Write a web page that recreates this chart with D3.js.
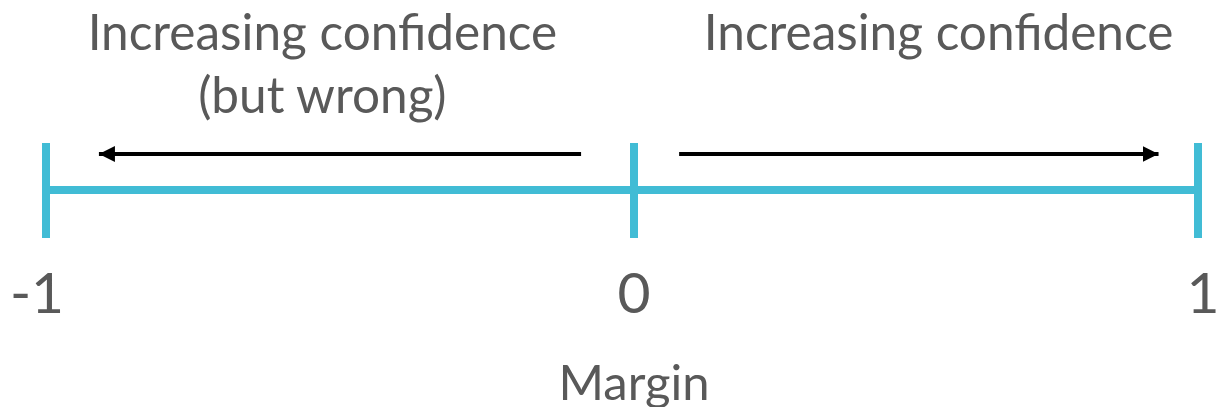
<!DOCTYPE html>
<html>
<head>
<meta charset="utf-8">
<script src="https://cdn.jsdelivr.net/npm/d3@7"></script>
<style>
  body { margin: 0; background: #fff; }
  svg { display: block; }
</style>
</head>
<body>
<script>
// margin axis: tick values and their labels
var tickValues = [-1, 0, 1];
var tickLabels = ["-1", "0", "1"];
// arrows, in margin units [from, to]
var arrows = [[-0.09, -0.91], [0.08, 0.93]];
// captions above each half
var captions = [
  {at: -0.53, lines: ["Increasing confidence", "(but wrong)"]},
  {at: 0.54, lines: ["Increasing confidence"]}
];
var axisTitle = "Margin";

var width = 1220, height = 407;
var teal = "#41bcd5", grey = "#595959";
var font = "Lato, sans-serif";

var x = d3.scaleLinear()
    .domain([-1, 0, 1])
    .range([46, 634, 1198]);

var svg = d3.select("body").append("svg")
    .attr("width", width)
    .attr("height", height)
    .attr("font-family", font);

svg.append("defs").append("marker")
    .attr("id", "head")
    .attr("viewBox", "0 0 16 16")
    .attr("refX", 16).attr("refY", 8)
    .attr("markerWidth", 16).attr("markerHeight", 16)
    .attr("markerUnits", "userSpaceOnUse")
    .attr("orient", "auto")
  .append("path")
    .attr("d", "M0,0 L16,8 L0,16 Z")
    .attr("fill", "#000");

// main line
var axisY = 190;
svg.append("line")
    .attr("x1", x(-1)).attr("x2", x(1))
    .attr("y1", axisY).attr("y2", axisY)
    .attr("stroke", teal)
    .attr("stroke-width", 8);

// ticks
svg.selectAll(".tick")
  .data(tickValues)
  .join("line")
    .attr("class", "tick")
    .attr("x1", d => x(d)).attr("x2", d => x(d))
    .attr("y1", 143).attr("y2", 238)
    .attr("stroke", teal)
    .attr("stroke-width", 8);

// tick labels
var labelShift = [-9, 0, 5];
svg.selectAll(".lbl")
  .data(tickValues)
  .join("text")
    .attr("class", "lbl")
    .attr("x", (d, i) => x(d) + labelShift[i])
    .attr("y", 313)
    .attr("text-anchor", "middle")
    .attr("font-size", 57)
    .attr("fill", grey)
    .text((d, i) => tickLabels[i]);

// arrows
svg.selectAll(".arrow")
  .data(arrows)
  .join("line")
    .attr("class", "arrow")
    .attr("x1", d => x(d[0])).attr("x2", d => x(d[1]))
    .attr("y1", 154).attr("y2", 154)
    .attr("stroke", "#000")
    .attr("stroke-width", 4)
    .attr("marker-end", "url(#head)");

// captions
captions.forEach(function(c) {
  var t = svg.append("text")
      .attr("text-anchor", "middle")
      .attr("font-size", 49.5)
      .attr("fill", grey);
  c.lines.forEach(function(l, i) {
    t.append("tspan")
        .attr("x", x(c.at))
        .attr("y", 50 + i * 63)
        .text(l);
  });
});

svg.append("text")
    .attr("x", x(0))
    .attr("y", 400)
    .attr("text-anchor", "middle")
    .attr("font-size", 49)
    .attr("fill", grey)
    .text(axisTitle);
</script>
</body>
</html>
